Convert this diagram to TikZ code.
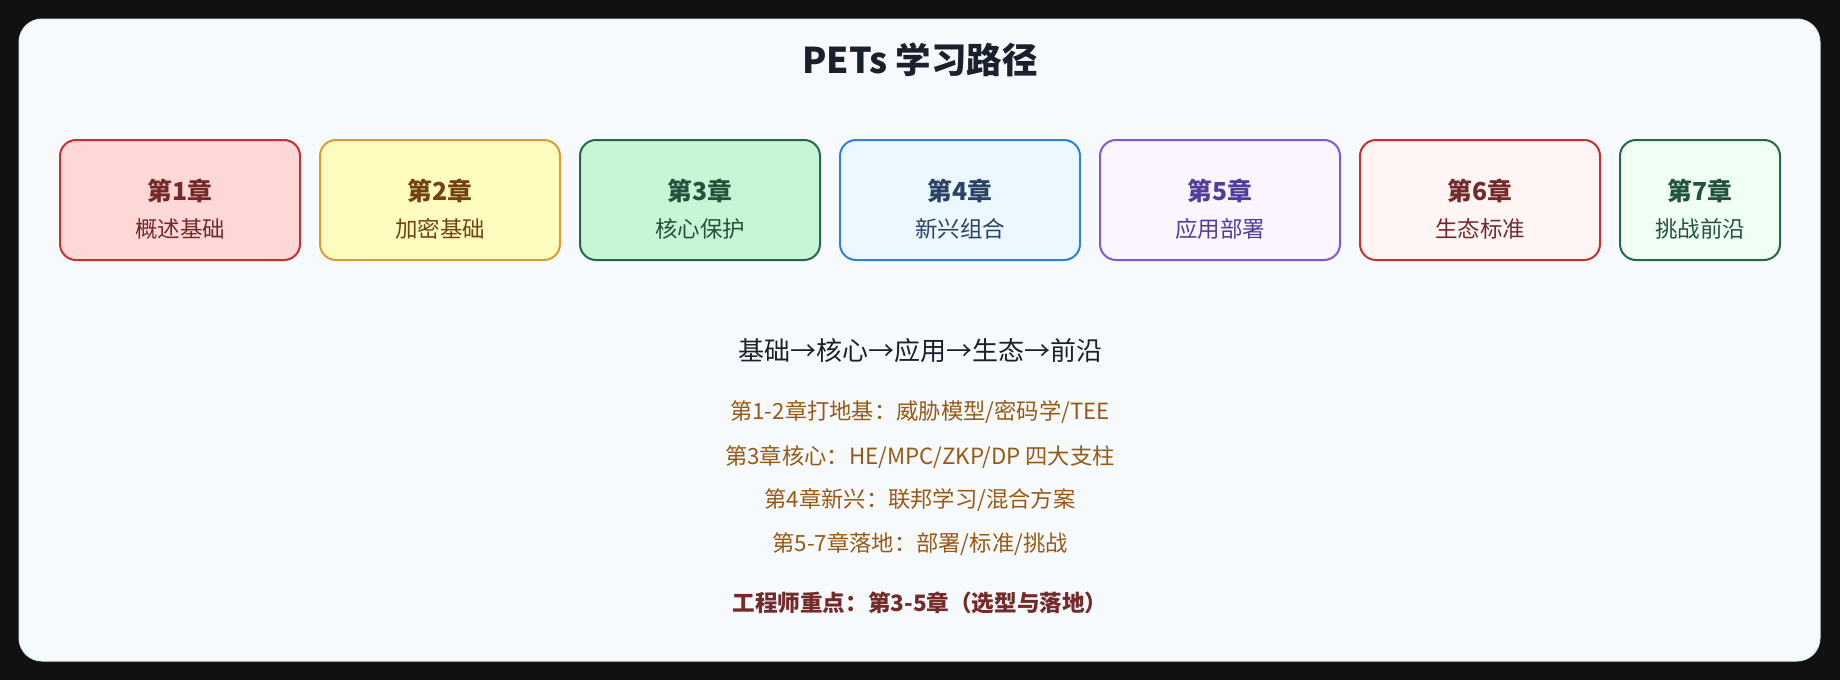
\documentclass[tikz,border=0pt]{standalone}
\usepackage{fontspec}
\setmainfont{Noto Sans CJK SC}
\usetikzlibrary{positioning}
\definecolor{pagebg}{HTML}{111111}
\definecolor{panelbg}{HTML}{F7FAFC}
\definecolor{panelbd}{HTML}{E2E8F0}
\definecolor{titlec}{HTML}{1A202C}
\definecolor{fillA}{HTML}{FED7D7}\definecolor{bdA}{HTML}{C53030}\definecolor{txA}{HTML}{742A2A}
\definecolor{fillB}{HTML}{FEFCBF}\definecolor{bdB}{HTML}{D69E2E}\definecolor{txB}{HTML}{744210}
\definecolor{fillC}{HTML}{C6F6D5}\definecolor{bdC}{HTML}{276749}\definecolor{txC}{HTML}{22543D}
\definecolor{fillD}{HTML}{EBF8FF}\definecolor{bdD}{HTML}{3182CE}\definecolor{txD}{HTML}{2A4365}
\definecolor{fillE}{HTML}{FAF5FF}\definecolor{bdE}{HTML}{805AD5}\definecolor{txE}{HTML}{553C9A}
\definecolor{fillF}{HTML}{FFF5F5}\definecolor{bdF}{HTML}{C53030}\definecolor{txF}{HTML}{742A2A}
\definecolor{fillG}{HTML}{F0FFF4}\definecolor{bdG}{HTML}{276749}\definecolor{txG}{HTML}{22543D}
\definecolor{notec}{HTML}{975A16}
\definecolor{keyc}{HTML}{742A2A}
\tikzset{
  chapbox/.style={draw, line width=2pt, rounded corners=16pt, minimum height=120pt, inner sep=0pt},
  chaptitle/.style={font=\fontsize{24.8}{29}\selectfont\bfseries, inner sep=0pt},
  chapsub/.style={font=\fontsize{22.5}{26}\selectfont, inner sep=0pt},
  noteline/.style={font=\fontsize{22.3}{26}\selectfont, text=notec, inner sep=0pt},
}
\begin{document}
\begin{tikzpicture}[x=1pt,y=-1pt]
\fill[pagebg] (0,0) rectangle (1840,680);
\useasboundingbox (0,0) rectangle (1840,680);
\draw[panelbd, fill=panelbg, line width=1pt, rounded corners=23pt] (19,19) rectangle (1820,661);
\node[font=\fontsize{35.5}{42}\selectfont\bfseries, text=titlec, inner sep=0pt] (title) at (920,60) {PETs 学习路径};
% chapter boxes
\foreach \n/\cx/\w/\L/\t/\s in {1/180/240/A/第1章/概述基础, 2/440/240/B/第2章/加密基础, 3/700/240/C/第3章/核心保护, 4/960/240/D/第4章/新兴组合, 5/1220/240/E/第5章/应用部署, 6/1480/240/F/第6章/生态标准, 7/1700/160/G/第7章/挑战前沿}{
  \node[chapbox, draw=bd\L, fill=fill\L, minimum width=\w pt] (ch\n) at (\cx,200) {};
  \node[chaptitle, text=tx\L] (ch\n t) at (\cx,191) {\t};
  \node[chapsub, text=tx\L] (ch\n s) at (\cx,229) {\s};
}
\node[font=\fontsize{26}{30}\selectfont, text=titlec, inner sep=0pt] (path) at (920,351) {基础→核心→应用→生态→前沿};
\node[noteline] (n1) at (920,412) {第1-2章打地基：威胁模型/密码学/TEE};
\node[noteline] (n2) at (920,457) {第3章核心：HE/MPC/ZKP/DP 四大支柱};
\node[noteline] (n3) at (920,500) {第4章新兴：联邦学习/混合方案};
\node[noteline] (n4) at (920,544) {第5-7章落地：部署/标准/挑战};
\node[font=\fontsize{22.6}{26}\selectfont\bfseries, text=keyc, inner sep=0pt] (key) at (920,603) {工程师重点：第3-5章（选型与落地）};
\end{tikzpicture}
\end{document}
